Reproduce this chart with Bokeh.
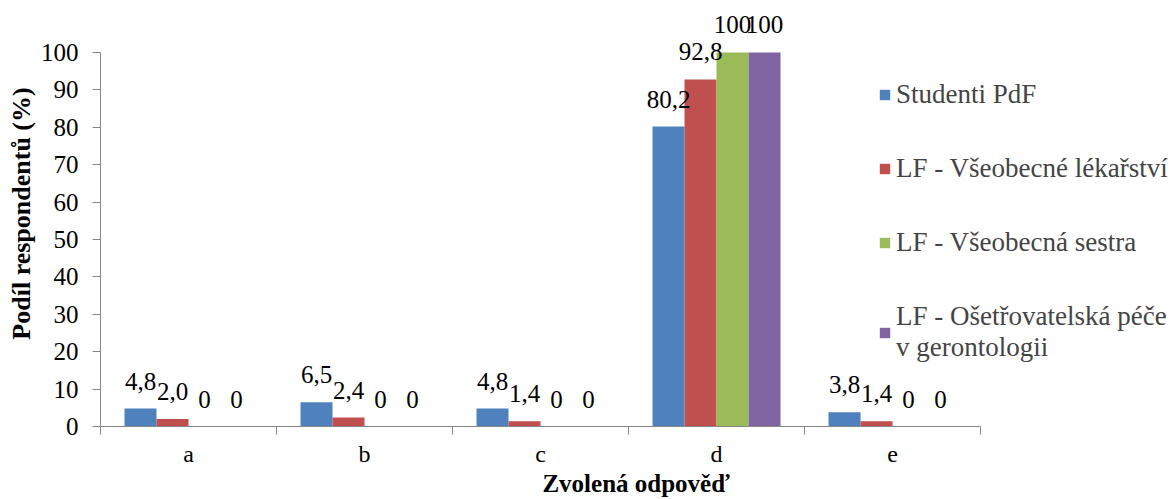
from bokeh.plotting import figure
from bokeh.models import ColumnDataSource, LabelSet, FixedTicker, Range1d, Legend, LegendItem
from bokeh.embed import file_html
from bokeh.resources import INLINE

categories = ["a", "b", "c", "d", "e"]
series_names = [
    "Studenti PdF",
    "LF - Všeobecné lékařství",
    "LF - Všeobecná sestra",
    "LF - Ošetřovatelská péče\nv gerontologii",
]
studenti_pdf = [4.8, 6.5, 4.8, 80.2, 3.8]
lf_vseobecne_lekarstvi = [2.0, 2.4, 1.4, 92.8, 1.4]
lf_vseobecna_sestra = [0, 0, 0, 100, 0]
lf_osetrovatelska_pece = [0, 0, 0, 100, 0]
y_ticks = list(range(0, 101, 10))

series = [studenti_pdf, lf_vseobecne_lekarstvi, lf_vseobecna_sestra, lf_osetrovatelska_pece]
colors = ["#4F81BD", "#C0504D", "#9BBB59", "#8064A2"]
offsets = [-0.2727, -0.0909, 0.0909, 0.2727]
bar_w = 0.1818
FONT = "Liberation Serif"


def fmt(v):
    if v == 0 or v == 100:
        return str(int(v))
    return f"{v:.1f}".replace(".", ",")


n = len(categories)
# frame extends past the last category (room for legend) and above 100 (room for labels)
p = figure(width=1171, height=499, x_range=Range1d(0, 6.085), y_range=Range1d(0, 113.9),
           output_backend="svg", toolbar_location=None,
           min_border_left=100, min_border_right=0, min_border_top=0, min_border_bottom=72)
p.outline_line_color = None
p.xgrid.grid_line_color = None
p.ygrid.grid_line_color = None
p.background_fill_color = "white"
p.border_fill_color = "white"

items = []
for i, vals in enumerate(series):
    xs = [k + 0.5 + offsets[i] for k in range(n)]
    src = ColumnDataSource(dict(x=xs, top=vals, lab=[fmt(v) for v in vals]))
    r = p.vbar(x="x", top="top", width=bar_w, source=src, fill_color=colors[i], line_color=None)
    items.append(LegendItem(label=series_names[i], renderers=[r]))
    ls = LabelSet(x="x", y="top", text="lab", source=src, text_align="center",
                  text_baseline="alphabetic", y_offset=19, text_font=FONT,
                  text_font_size="25px", text_color="black")
    p.add_layout(ls)

legend = Legend(items=items, location=(778, 63), padding=0, margin=0, spacing=43,
                glyph_width=13, glyph_height=13, label_standoff=5,
                label_text_font=FONT, label_text_font_size="27px",
                border_line_color=None, background_fill_alpha=0)
p.add_layout(legend, "center")

ax = p.xaxis[0]
ax.bounds = (0, n)
ax.ticker = FixedTicker(ticks=[k + 0.5 for k in range(n)], minor_ticks=list(range(n + 1)))
ax.major_label_overrides = {k + 0.5: c for k, c in enumerate(categories)}
ax.major_tick_out = 0
ax.major_tick_in = 0
ax.minor_tick_out = 8
ax.minor_tick_in = 0
ax.minor_tick_line_color = "#868686"
ax.axis_line_color = "#868686"
ax.major_label_text_font = FONT
ax.major_label_text_font_size = "24px"
ax.major_label_text_color = "black"
ax.major_label_standoff = 6
ax.axis_label = "Zvolená odpověď"
ax.axis_label_text_font = FONT
ax.axis_label_text_font_size = "25px"
ax.axis_label_text_font_style = "bold"
ax.axis_label_text_color = "black"
ax.axis_label_standoff = 0

ay = p.yaxis[0]
ay.bounds = (0, 100)
ay.ticker = FixedTicker(ticks=y_ticks)
ay.major_tick_out = 8
ay.major_tick_in = 0
ay.minor_tick_line_color = None
ay.major_tick_line_color = "#868686"
ay.axis_line_color = "#868686"
ay.major_label_text_font = FONT
ay.major_label_text_font_size = "25px"
ay.major_label_text_color = "black"
ay.major_label_standoff = 14
ay.axis_label = "Podíl respondentů (%)"
ay.axis_label_text_font = FONT
ay.axis_label_text_font_size = "26px"
ay.axis_label_text_font_style = "bold"
ay.axis_label_text_color = "black"
ay.axis_label_standoff = 2

open("out.html", "w").write(file_html(p, INLINE))
